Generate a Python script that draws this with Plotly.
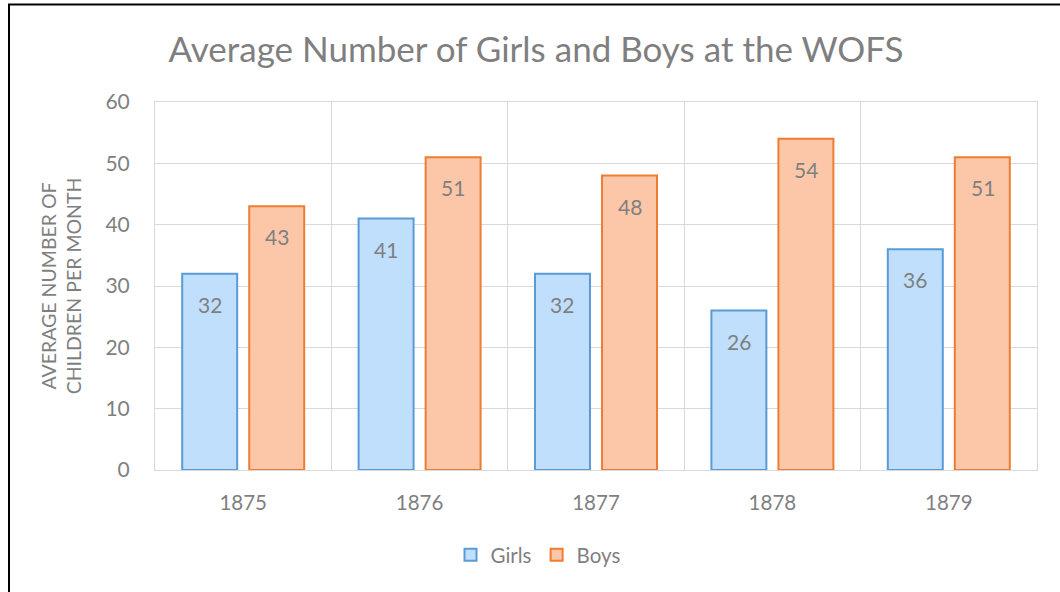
import plotly.graph_objects as go

years = ["1875", "1876", "1877", "1878", "1879"]
girls = [32, 41, 32, 26, 36]
boys = [43, 51, 48, 54, 51]
y_ticks = [0, 10, 20, 30, 40, 50, 60]

title_text = "Average Number of Girls and Boys at the WOFS"
y_title = "AVERAGE NUMBER OF<br>CHILDREN PER MONTH"

GRAY = "#7f7f7f"
GRID = "#d9d9d9"
FONT = "Lato, 'Open Sans', sans-serif"

fig = go.Figure()
fig.add_trace(go.Bar(
    name="Girls", x=years, y=girls,
    marker=dict(color="#bfdffd", line=dict(color="#5b9bd5", width=2)),
))
fig.add_trace(go.Bar(
    name="Boys", x=years, y=boys,
    marker=dict(color="#fcc7a9", line=dict(color="#ed7d31", width=2)),
))

# data labels near top inside bars
for vals, shift in ((girls, -33.7), (boys, 33.7)):
    for i, v in enumerate(vals):
        fig.add_annotation(x=i, y=v, text=str(v), showarrow=False,
                           xshift=shift, yshift=-16, yanchor="top",
                           font=dict(size=21, color=GRAY, family=FONT))

L, R, T, B = 155, 23, 102, 122
W, H = 1060, 592
pw, ph = W - L - R, H - T - B
px = lambda v: (v - L) / pw
py = lambda v: (H - B - v) / ph

fig.update_layout(
    width=W, height=H,
    margin=dict(l=L, r=R, t=T, b=B),
    paper_bgcolor="white", plot_bgcolor="white",
    font=dict(family=FONT, color=GRAY),
    title=dict(text=title_text, xref="paper", x=px(536), xanchor="center",
               y=1 - 50 / H, yanchor="middle",
               font=dict(size=35, color=GRAY, family=FONT)),
    barmode="group", bargap=0.24, bargroupgap=0.18,
    showlegend=True,
    legend=dict(orientation="h", x=px(538), xanchor="center", y=py(555), yanchor="middle",
                font=dict(size=20.5, color=GRAY, family=FONT), itemwidth=30),
    xaxis=dict(type="category", tickson="boundaries", showgrid=True, gridcolor=GRID,
               gridwidth=1, showline=True, linecolor=GRID, mirror=True, ticks="",
               range=[-0.5, 4.5],
               tickfont=dict(size=20.5, color=GRAY), ticklabelstandoff=14),
    yaxis=dict(range=[0, 60], tickvals=y_ticks, showgrid=True, gridcolor=GRID,
               showline=True, linecolor=GRID, mirror=True, zeroline=False, ticks="",
               tickfont=dict(size=21, color=GRAY), ticklabelstandoff=20,
               title=dict(text=y_title, font=dict(size=19.5, color=GRAY), standoff=18)),
    shapes=[
        dict(type="line", xref="paper", yref="paper", x0=px(9), x1=px(9), y0=py(4), y1=py(600),
             line=dict(color="black", width=2)),
        dict(type="line", xref="paper", yref="paper", x0=px(8), x1=px(1070), y0=py(4.5), y1=py(4.5),
             line=dict(color="black", width=2)),
    ],
)

fig.write_html("out.html", config={"displayModeBar": False},
               post_script="document.body.style.margin='0';")
